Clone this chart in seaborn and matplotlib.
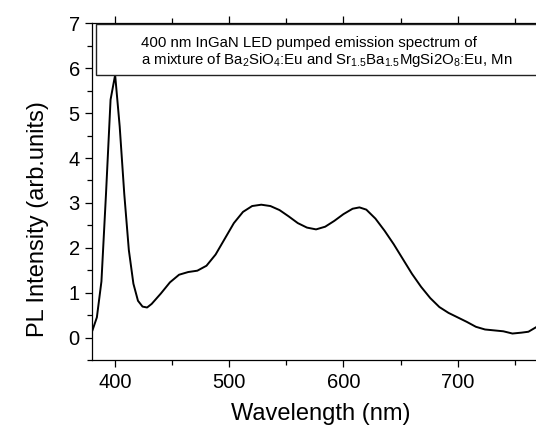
import matplotlib
matplotlib.use("Agg")
import matplotlib.pyplot as plt
from matplotlib.patches import Rectangle
from matplotlib.ticker import MultipleLocator
import seaborn as sns
import pandas as pd

wavelength = [380, 384, 388, 392, 396, 400, 404, 408, 412, 416, 420, 424, 428, 432,
              440, 448, 456, 464, 472, 480, 488, 496, 504, 512, 520, 528, 536, 544,
              552, 560, 568, 576, 584, 592, 600, 608, 614, 620, 628, 636, 644, 652,
              660, 668, 676, 684, 692, 700, 708, 716, 724, 732, 740, 748, 756, 762, 770]
intensity = [0.15, 0.45, 1.25, 3.2, 5.3, 5.85, 4.7, 3.2, 1.95, 1.2, 0.82, 0.69, 0.67, 0.75,
             0.98, 1.23, 1.40, 1.46, 1.49, 1.60, 1.85, 2.2, 2.55, 2.8, 2.93, 2.96, 2.93, 2.84,
             2.7, 2.55, 2.45, 2.41, 2.47, 2.6, 2.75, 2.87, 2.90, 2.85, 2.65, 2.38, 2.08, 1.75,
             1.42, 1.13, 0.88, 0.68, 0.55, 0.45, 0.35, 0.24, 0.18, 0.16, 0.14, 0.09, 0.11, 0.13, 0.25]

x_major = [400, 500, 600, 700]
y_major = [0, 1, 2, 3, 4, 5, 6, 7]
title_line1 = "400 nm InGaN LED pumped emission spectrum of"
title_line2 = r"a mixture of Ba$_2$SiO$_4$:Eu and Sr$_{1.5}$Ba$_{1.5}$MgSi2O$_8$:Eu, Mn"
xlabel = "Wavelength (nm)"
ylabel = "PL Intensity (arb.units)"

sns.set_style("ticks")
plt.rcParams["font.family"] = ["Liberation Sans", "DejaVu Sans"]
plt.rcParams["mathtext.fontset"] = "custom"
plt.rcParams["mathtext.rm"] = "Liberation Sans"
plt.rcParams["mathtext.it"] = "Liberation Sans:italic"
plt.rcParams["mathtext.bf"] = "Liberation Sans:bold"
for k in ["text.color", "axes.labelcolor", "xtick.color", "ytick.color", "axes.edgecolor"]:
    plt.rcParams[k] = "black"

df = pd.DataFrame({"wavelength": wavelength, "intensity": intensity})

fig = plt.figure(figsize=(5.36, 4.29), dpi=100)
ax = fig.add_axes([0.1722, 0.1608, 0.852, 0.7848])
sns.lineplot(data=df, x="wavelength", y="intensity", ax=ax, color="black", linewidth=1.4)

ax.set_xlim(380, 780)
ax.set_ylim(-0.5, 7)
ax.set_xticks(x_major)
ax.set_yticks(y_major)
ax.xaxis.set_minor_locator(MultipleLocator(50))
ax.yaxis.set_minor_locator(MultipleLocator(0.5))
for s in ax.spines.values():
    s.set_linewidth(0.9)
    s.set_color("black")
ax.tick_params(which="both", direction="out", width=0.9, color="black",
               labelcolor="black", top=True, right=True, labelsize=14.5, pad=4)
ax.tick_params(which="major", length=5)
ax.tick_params(which="minor", length=3.5)

ax.set_xlabel(xlabel, fontsize=17, labelpad=8, color="black")
ax.set_ylabel(ylabel, fontsize=17, color="black")
ax.yaxis.set_label_coords(-0.095, 0.42)

box = Rectangle((0.0074, 0.8456), 1.2, 0.152, transform=ax.transAxes,
                facecolor="white", edgecolor="#222222", linewidth=1.0, zorder=5)
ax.add_patch(box)
ax.text(0.106, 0.9305, title_line1, transform=ax.transAxes, fontsize=10.8,
        va="baseline", ha="left", zorder=6, color="black")
ax.text(0.106, 0.878, title_line2, transform=ax.transAxes, fontsize=10.8,
        va="baseline", ha="left", zorder=6, color="black")

fig.savefig("out.png", dpi=100)
